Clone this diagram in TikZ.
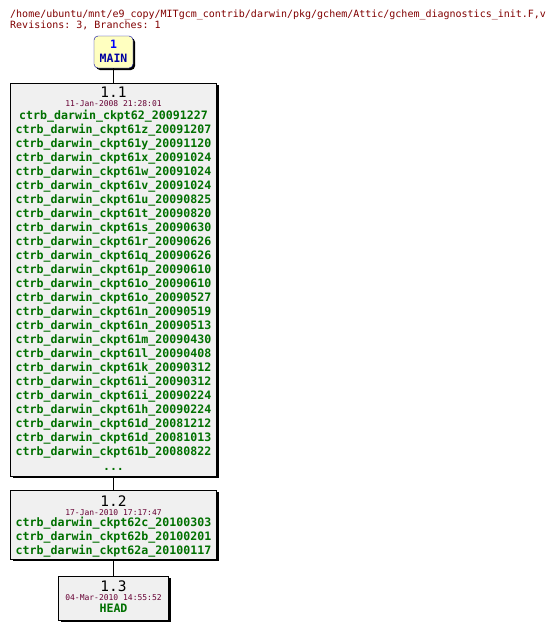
\documentclass[tikz,border=0pt]{standalone}
\usepackage{fontspec}
\setmonofont{DejaVu Sans Mono}
\usepackage{xcolor}
\usetikzlibrary{shadows}
\definecolor{titlered}{RGB}{128,0,0}
\definecolor{datered}{RGB}{102,0,51}
\definecolor{taggreen}{RGB}{0,112,0}
\definecolor{revfill}{RGB}{240,240,240}
\definecolor{mainfill}{RGB}{255,255,192}
\definecolor{mainblue}{RGB}{0,0,160}

\tikzset{
  revbox/.style={draw=black, fill=revfill, minimum width=206pt, inner sep=0pt,
    drop shadow={shadow xshift=2pt, shadow yshift=-2pt, fill=black, opacity=1}},
  branchbox/.style={draw=mainblue, fill=mainfill, rounded corners=4pt, inner sep=0pt,
    minimum width=39pt, minimum height=32pt,
    drop shadow={shadow xshift=2pt, shadow yshift=-2pt, fill=black, opacity=1}},
  revnum/.style={anchor=base, font=\ttfamily\fontsize{14.5}{14.5}\selectfont},
  revdate/.style={anchor=base, text=datered, font=\ttfamily\fontsize{8}{8}\selectfont},
  tag/.style={anchor=base, text=taggreen, font=\ttfamily\bfseries\fontsize{11.6}{11.6}\selectfont},
}

\begin{document}
\begin{tikzpicture}[x=1pt, y=-1pt]
    \useasboundingbox (0,0) rectangle (554,629);

    % Header
    \node[anchor=base west, inner sep=0pt, text=titlered, font=\ttfamily\fontsize{10}{10}\selectfont]
        (path) at (10,17) {/home/ubuntu/mnt/e9\_copy/MITgcm\_contrib/darwin/pkg/gchem/Attic/gchem\_diagnostics\_init.F,v};
    \node[anchor=base west, inner sep=0pt, text=titlered, font=\ttfamily\fontsize{10}{10}\selectfont]
        (info) at (10,28) {Revisions: 3, Branches: 1};

    % Branch box
    \node[branchbox] (main) at (113.5,52) {};
    \node[anchor=base, text=blue, font=\ttfamily\bfseries\fontsize{11.5}{11.5}\selectfont] (mainnum) at (113.5,48.5) {1};
    \node[anchor=base, text=mainblue, font=\ttfamily\bfseries\fontsize{11.5}{11.5}\selectfont] (mainname) at (113.5,62) {MAIN};

    % Revision boxes
    \node[revbox, minimum height=393pt] (r11) at (113.5,279.5) {};
    \node[revbox, minimum height=69pt] (r12) at (113.5,524.5) {};
    \node[revbox, minimum width=110pt, minimum height=44pt] (r13) at (113.5,598) {};

    % Connectors
    \draw (main) -- (r11);
    \draw (r11) -- (r12);
    \draw (r12) -- (r13);

    % Revision 1.1
    \node[revnum] (n11) at (113.5,97.5) {1.1};
    \node[revdate] (d11) at (113.5,106.5) {11-Jan-2008 21:28:01};
    \foreach \t [count=\i from 0] in {ctrb\_darwin\_ckpt62\_20091227, ctrb\_darwin\_ckpt61z\_20091207,
        ctrb\_darwin\_ckpt61y\_20091120, ctrb\_darwin\_ckpt61x\_20091024, ctrb\_darwin\_ckpt61w\_20091024,
        ctrb\_darwin\_ckpt61v\_20091024, ctrb\_darwin\_ckpt61u\_20090825, ctrb\_darwin\_ckpt61t\_20090820,
        ctrb\_darwin\_ckpt61s\_20090630, ctrb\_darwin\_ckpt61r\_20090626, ctrb\_darwin\_ckpt61q\_20090626,
        ctrb\_darwin\_ckpt61p\_20090610, ctrb\_darwin\_ckpt61o\_20090610, ctrb\_darwin\_ckpt61o\_20090527,
        ctrb\_darwin\_ckpt61n\_20090519, ctrb\_darwin\_ckpt61n\_20090513, ctrb\_darwin\_ckpt61m\_20090430,
        ctrb\_darwin\_ckpt61l\_20090408, ctrb\_darwin\_ckpt61k\_20090312, ctrb\_darwin\_ckpt61i\_20090312,
        ctrb\_darwin\_ckpt61i\_20090224, ctrb\_darwin\_ckpt61h\_20090224, ctrb\_darwin\_ckpt61d\_20081212,
        ctrb\_darwin\_ckpt61d\_20081013, ctrb\_darwin\_ckpt61b\_20080822}
        \node[tag] (t11-\i) at (113.5,119.5+14*\i) {\t};
    \node[tag] (more11) at (113.5,470) {...};

    % Revision 1.2
    \node[revnum] (n12) at (113.5,506) {1.2};
    \node[revdate] (d12) at (113.5,515) {17-Jan-2010 17:17:47};
    \node[tag] (t12-0) at (113.5,526) {ctrb\_darwin\_ckpt62c\_20100303};
    \node[tag] (t12-1) at (113.5,540) {ctrb\_darwin\_ckpt62b\_20100201};
    \node[tag] (t12-2) at (113.5,554) {ctrb\_darwin\_ckpt62a\_20100117};

    % Revision 1.3
    \node[revnum] (n13) at (113.5,591) {1.3};
    \node[revdate] (d13) at (113.5,600) {04-Mar-2010 14:55:52};
    \node[tag] (t13-0) at (113.5,612) {HEAD};
\end{tikzpicture}
\end{document}
